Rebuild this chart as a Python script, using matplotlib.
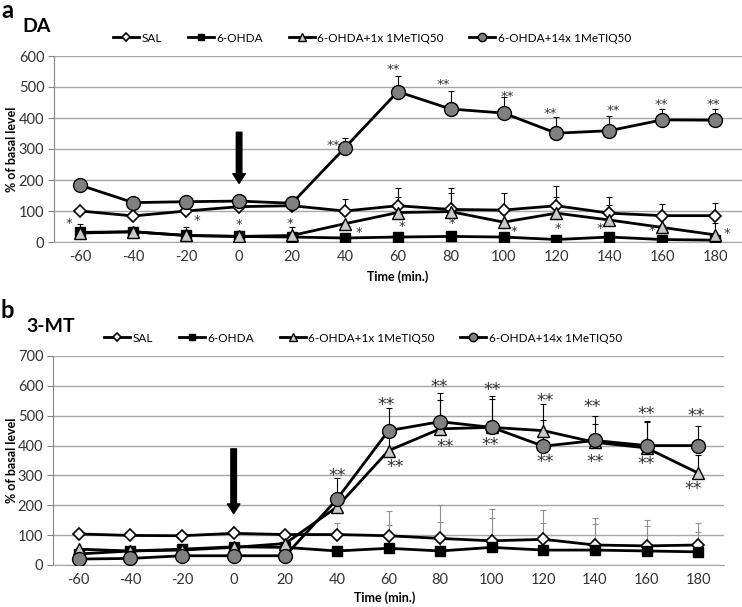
import numpy as np
import matplotlib
matplotlib.use('Agg')
import matplotlib.pyplot as plt

plt.rcParams['font.family'] = ['Lato', 'DejaVu Sans']
plt.rcParams['axes.unicode_minus'] = False

# Время (мин.)
times = [-60, -40, -20, 0, 20, 40, 60, 80, 100, 120, 140, 160, 180]
labels = ['SAL', '6-OHDA', '6-OHDA+1x 1MeTIQ50', '6-OHDA+14x 1MeTIQ50']

# DA, % of basal level
da_sal = [100, 84, 100, 114, 117, 100, 117, 105, 103, 117, 93, 85, 85]
da_ohda = [31, 33, 21, 18, 16, 13, 16, 18, 16, 8, 16, 8, 6]
da_1x = [29, 33, 21, 18, 21, 59, 95, 98, 64, 93, 71, 47, 23]
da_14x = [183, 127, 130, 132, 125, 304, 485, 429, 416, 351, 359, 394, 393]
# верхние планки ошибок
da_sal_err = [6, 8, 6, 6, 6, 38, 58, 68, 56, 63, 51, 38, 42]
da_ohda_err = [4, 4, 3, 3, 3, 3, 3, 4, 3, 3, 4, 3, 3]
da_1x_err = [29, 8, 26, 5, 27, 5, 49, 59, 8, 53, 48, 8, 38]
da_14x_err = [5, 5, 5, 5, 12, 32, 50, 59, 52, 53, 48, 34, 35]

# звездочки DA
da_star_x = [-64.5, -15.8, 0, 19.4, 45.5, 35.7, 58.2, 61.6, 77.3, 80.5, 101.3, 104, 117.7, 120.6, 141.4, 136.6, 159.7, 156, 179.4, 184.5]
da_star_y = [61, 68, 55, 61, 31, 311, 556, 50, 508, 59, 469, 34, 413, 42, 425, 43, 442, 36, 445, 29]
da_star_t = ['*', '*', '*', '*', '*', '**', '**', '*', '**', '*', '**', '*', '**', '*', '**', '*', '**', '*', '**', '*']

# 3-MT, % of basal level
mt_sal = [104, 99, 98, 106, 102, 102, 98, 89, 81, 86, 67, 64, 67]
mt_ohda = [37, 47, 53, 61, 59, 47, 56, 47, 59, 50, 50, 47, 44]
mt_1x = [53, 47, 50, 59, 72, 194, 383, 456, 461, 450, 411, 392, 308]
mt_14x = [20, 22, 31, 31, 31, 220, 450, 480, 461, 398, 417, 400, 400]
mt_sal_err = [5, 5, 5, 5, 5, 39, 82, 111, 108, 97, 89, 88, 72]
mt_ohda_err = [5, 5, 5, 5, 5, 5, 77, 97, 97, 89, 86, 83, 67]
mt_1x_err = [5, 5, 5, 5, 5, 40, 80, 97, 95, 89, 60, 86, 60]
mt_14x_err = [5, 5, 5, 5, 5, 70, 75, 95, 106, 88, 83, 81, 64]

mt_star_x = [40, 59, 62.5, 79.5, 81.8, 100, 99.3, 120.6, 120.6, 139, 140, 160, 160, 179.4, 178]
mt_star_y = [311, 548, 339, 609, 406, 597, 413, 561, 356, 541, 356, 519, 350, 511, 267]

styles = [
    dict(marker='D', ms=6.5, mfc='white', mec='black', mew=1.2),
    dict(marker='s', ms=7, mfc='black', mec='black', mew=1),
    dict(marker='^', ms=9, mfc='#c8c8c8', mec='black', mew=1),
    dict(marker='o', ms=10, mfc='#808080', mec='black', mew=1),
]

fig = plt.figure(figsize=(7.42, 6.07), dpi=100)
W, H = 742, 607


def draw_panel(ax, series, errs, err_colors, ymax, arrow_from, arrow_to):
    for vals, err, st, ec, lab in zip(series, errs, styles, err_colors, labels):
        ax.errorbar(times, vals, yerr=[np.zeros(len(err)), err], fmt='none',
                    ecolor=ec, elinewidth=0.8, capsize=2.5, capthick=0.8, zorder=2)
        ax.plot(times, vals, color='black', lw=2, label=lab, zorder=3, **st)
    ax.set_xlim(-70, 190)
    ax.set_ylim(0, ymax)
    ax.set_xticks(times)
    ax.set_yticks(np.arange(0, ymax + 1, 100))
    ax.grid(axis='y', color='#a6a6a6', lw=1)
    ax.set_axisbelow(True)
    for s in ['top', 'right']:
        ax.spines[s].set_visible(False)
    ax.spines['left'].set_color('#868686')
    ax.spines['bottom'].set_color('#a6a6a6')
    ax.tick_params(axis='x', length=0, pad=6, labelsize=10.5, labelcolor='#333333')
    ax.tick_params(axis='y', length=4, color='#868686', pad=3, labelsize=10.5, labelcolor='#333333')
    ax.annotate('', xy=(0, arrow_to), xytext=(0, arrow_from),
                arrowprops=dict(facecolor='black', edgecolor='black', width=4, headwidth=9,
                                headlength=7, shrink=0), zorder=4)


ax_a = fig.add_axes([54 / W, 1 - 242 / H, (741.5 - 54) / W, (242 - 56) / H])
draw_panel(ax_a, [da_sal, da_ohda, da_1x, da_14x],
           [da_sal_err, da_ohda_err, da_1x_err, da_14x_err],
           ['black'] * 4, 600, 354, 189)
for x, y, t in zip(da_star_x, da_star_y, da_star_t):
    ax_a.text(x, y, t, ha='center', va='center', fontsize=9.5, color='#333333',
              family='DejaVu Sans', zorder=5)

ax_b = fig.add_axes([53 / W, 1 - 565 / H, (724 - 53) / W, (565 - 356) / H])
draw_panel(ax_b, [mt_sal, mt_ohda, mt_1x, mt_14x],
           [mt_sal_err, mt_ohda_err, mt_1x_err, mt_14x_err],
           ['#909090', '#909090', 'black', 'black'], 700, 389, 172)
for x, y in zip(mt_star_x, mt_star_y):
    ax_b.text(x, y - 12, '**', ha='center', va='center', fontsize=12.5, color='#333333',
              family='DejaVu Sans', zorder=5)

# подписи
for ycen, xc, yt in [((56 + 242) / 2, 398, 277), ((356 + 565) / 2, 385, 598)]:
    fig.text(12 / W, 1 - ycen / H, '% of basal level', rotation=90, ha='center', va='center',
             fontsize=9, fontweight='bold')
    fig.text(xc / W, 1 - yt / H, 'Time (min.)', ha='center', va='center',
             fontsize=9, fontweight='bold')

fig.text(1 / W, 1 - 10 / H, 'a', fontsize=17, fontweight='bold', va='center')
fig.text(22 / W, 1 - 26 / H, 'DA', fontsize=14, fontweight='bold', va='center')
fig.text(1 / W, 1 - 311 / H, 'b', fontsize=17, fontweight='bold', va='center')
fig.text(26 / W, 1 - 326 / H, '3-MT', fontsize=14, fontweight='bold', va='center')

for ax, xc, yc in [(ax_a, 372, 38), (ax_b, 363, 338)]:
    h, l = ax.get_legend_handles_labels()
    fig.legend(h, l, loc='center', bbox_to_anchor=(xc / W, 1 - yc / H), ncol=4, frameon=False,
               fontsize=8.5, handlelength=2.2, handletextpad=0.2, columnspacing=2.2,
               markerscale=0.6)

fig.savefig('out.png', dpi=100)
